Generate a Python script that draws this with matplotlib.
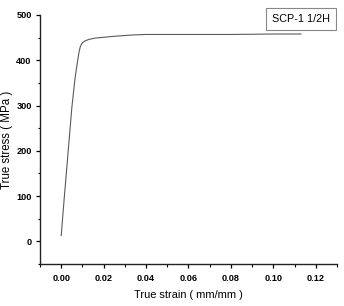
import matplotlib
matplotlib.use("Agg")
import matplotlib.pyplot as plt
from matplotlib.ticker import MultipleLocator

strain = [0.0, 0.0015, 0.0033, 0.0050, 0.0065, 0.0076, 0.0084, 0.0090, 0.0096, 0.0103,
          0.0113, 0.0130, 0.0160, 0.0184, 0.025, 0.034, 0.040, 0.06, 0.08, 0.1, 0.113]
stress = [13, 100, 200, 295, 360, 395, 418, 430, 436, 440,
          443, 446, 449, 450, 453, 456, 457, 457, 457, 458, 458]
label = "SCP-1 1/2H"
xticks = [0.00, 0.02, 0.04, 0.06, 0.08, 0.10, 0.12]
yticks = [0, 100, 200, 300, 400, 500]

plt.rcParams['font.family'] = ['Liberation Sans', 'DejaVu Sans']
fig = plt.figure(figsize=(3.44, 3.06), dpi=100)
ax = fig.add_axes([40/344, 42/306, 297/344, 249/306])
ax.plot(strain, stress, color='#5a5a5a', lw=0.8)
ax.set_xlim(-0.01, 0.13)
ax.set_ylim(-50, 500)
ax.set_xticks(xticks)
ax.set_xticklabels([f"{v:.2f}" for v in xticks])
ax.set_yticks(yticks)
ax.xaxis.set_minor_locator(MultipleLocator(0.01))
ax.yaxis.set_minor_locator(MultipleLocator(50))
for s in ['top', 'right']:
    ax.spines[s].set_visible(False)
for s in ['left', 'bottom']:
    ax.spines[s].set_linewidth(1.0)
    ax.spines[s].set_color('#222222')
ax.tick_params(which='major', direction='out', length=3, width=0.9, labelsize=6.6)
ax.tick_params(axis='y', which='major', pad=3)
ax.tick_params(axis='x', which='major', pad=4)
ax.tick_params(which='minor', direction='out', length=1.8, width=0.8)
for t in ax.get_xticklabels() + ax.get_yticklabels():
    t.set_fontweight('bold')
ax.set_xlabel("True strain ( mm/mm )", fontsize=7.9, labelpad=5)
ax.set_ylabel("True stress ( MPa )", fontsize=8.3, labelpad=2.5)
fig.text(301/344, 1 - 18.7/306, label, fontsize=7.8, ha='center', va='center',
         bbox=dict(boxstyle='square,pad=0.55', fc='white', ec='#888888', lw=0.8))
fig.savefig("out.png", dpi=100)
